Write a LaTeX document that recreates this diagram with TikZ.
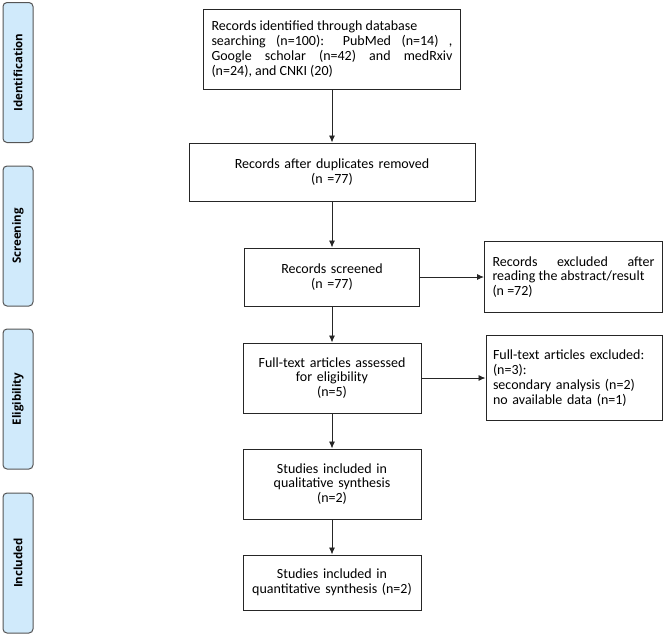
\documentclass[tikz,border=0pt]{standalone}
\usepackage{fontspec}
\setmainfont{Carlito}
\newfontfamily\phasefont{Open Sans}
\usepackage{tikz}
\usetikzlibrary{arrows.meta, positioning}
\definecolor{phaseblue}{RGB}{208,234,251}
\definecolor{phaseline}{RGB}{85,85,85}

\begin{document}
\begin{tikzpicture}[
    x=1pt, y=1pt,
    box/.style={rectangle, draw=black!85, line width=1pt, align=center, inner xsep=8pt, font=\fontsize{14}{14.8}\selectfont},
    phase/.style={rectangle, rounded corners=4pt, draw=phaseline, line width=1pt, fill=phaseblue, rotate=90, minimum width=140pt, minimum height=30pt, font=\phasefont\bfseries\fontsize{11.5}{14}\selectfont},
    arrow/.style={-{Latex[length=7pt,width=6pt]}, line width=0.9pt, draw=black!85}
]
\useasboundingbox (0,0) rectangle (664,-635);

% phases
\node[phase] (ident) at (18,-72.5) {Identification};
\node[phase] (screen) at (18,-236) {Screening};
\node[phase] (elig) at (18,-399) {Eligibility};
\node[phase] (incl) at (18,-563) {Included};

% main column
\node[box, text width=241pt, minimum height=80pt, align=justify] (records) at (332,-49) {Records identified through database\newline searching (n=100): PubMed (n=14) ,\linebreak Google scholar (n=42) and medRxiv\linebreak (n=24), and CNKI (20)};
\node[box, text width=270pt, minimum height=58pt, below=53pt of records] (dedup) {Records after duplicates removed\\(n =77)};
\node[box, text width=159pt, minimum height=58pt, below=46pt of dedup] (screened) {Records screened\\(n =77)};
\node[box, text width=162pt, minimum height=70pt, below=36pt of screened] (fulltext) {Full-text articles assessed\\for eligibility\\(n=5)};
\node[box, text width=162pt, minimum height=70pt, below=35pt of fulltext] (qual) {Studies included in\\qualitative synthesis\\(n=2)};
\node[box, text width=162pt, minimum height=55pt, below=35pt of qual] (quant) {Studies included in\\quantitative synthesis (n=2)};

% exclusions
\node[box, text width=162pt, minimum height=71pt, align=justify, right=64pt of screened] (excl1) {Records excluded after\linebreak reading the abstract/result\newline (n =72)};
\node[box, text width=162pt, inner xsep=7pt, minimum height=85pt, align=left, right=64pt of fulltext] (excl2) {Full-text articles excluded:\\(n=3):\\secondary analysis (n=2)\\no available data (n=1)};

\draw[arrow] (records) -- (dedup);
\draw[arrow] (dedup) -- (screened);
\draw[arrow] (screened) -- (fulltext);
\draw[arrow] (fulltext) -- (qual);
\draw[arrow] (qual) -- (quant);
\draw[arrow] (screened) -- (excl1);
\draw[arrow] (fulltext) -- (excl2);
\end{tikzpicture}
\end{document}
